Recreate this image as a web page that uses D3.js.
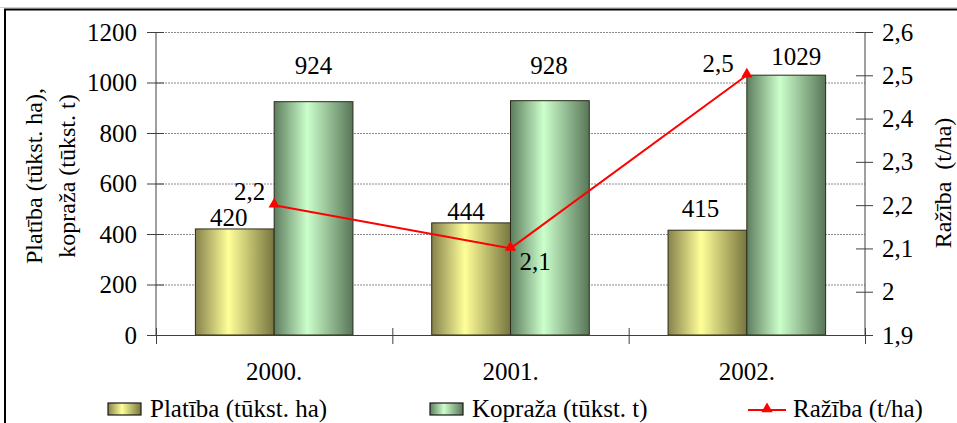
<!DOCTYPE html>
<html><head><meta charset="utf-8">
<script src="https://cdn.jsdelivr.net/npm/d3@7"></script>
<style>
body{margin:0;background:#fff;overflow:hidden}
svg{display:block}
svg text{font-family:"Liberation Serif","Tinos","DejaVu Serif","Noto Serif",serif !important;fill:#000}
</style></head><body>
<svg id="c" width="957" height="423" font-family="Liberation Serif, DejaVu Serif, serif"></svg>
<script>
// ---- data ----
const years = ["2000.", "2001.", "2002."];
const platiba = [420, 444, 415];
const kopraza = [924, 928, 1029];
const raziba = [2.2, 2.1, 2.5];
const leftTicks = [0, 200, 400, 600, 800, 1000, 1200];
const rightTicks = [1.9, 2.0, 2.1, 2.2, 2.3, 2.4, 2.5, 2.6];
const seriesNames = ["Platība (tūkst. ha)", "Kopraža (tūkst. t)", "Ražība (t/ha)"];
const leftTitle = ["Platība (tūkst. ha),", "kopraža (tūkst. t)"];
const rightTitle = "Ražība  (t/ha)";

// ---- layout ----
const FONT = '"Liberation Serif", "DejaVu Serif", serif';
const L = 156, R = 865, T = 32, B = 335;
const svg = d3.select("#c");
const fmt = d => String(d).replace(".", ",");

// frame
svg.append("line").attr("x1", 0).attr("x2", 957).attr("y1", 7.5).attr("y2", 7.5).attr("stroke", "#d0d0d0").attr("stroke-width", 1);
svg.append("path").attr("d", "M5,430V9.5H960").attr("fill", "none").attr("stroke", "#000").attr("stroke-width", 2);

// gradients
const defs = svg.append("defs");
function grad(id, edgeL, mid, edgeR) {
  const g = defs.append("linearGradient").attr("id", id).attr("x1", 0).attr("x2", 1).attr("y1", 0).attr("y2", 0);
  g.append("stop").attr("offset", 0).attr("stop-color", edgeL);
  g.append("stop").attr("offset", 0.42).attr("stop-color", mid);
  g.append("stop").attr("offset", 1).attr("stop-color", edgeR);
}
grad("gP", "#86824c", "#ffff99", "#77753f");
grad("gK", "#5d7d5d", "#ccffcc", "#587658");

const x0 = d3.scaleBand().domain(years).range([L, R]).paddingInner(0).paddingOuter(0);
const x1 = d3.scaleBand().domain([0, 1]).range([0, x0.bandwidth()]).paddingInner(0).paddingOuter(0.5);
const y = d3.scaleLinear().domain([0, 1200]).range([B, T]);
const y2 = d3.scaleLinear().domain([1.9, 2.6]).range([B, T]);

// gridlines
svg.append("g").selectAll("line").data(leftTicks.filter(d => d > 0)).join("line")
  .attr("x1", L).attr("x2", R).attr("y1", d => y(d) + 0.5).attr("y2", d => y(d) + 0.5)
  .attr("stroke", "#8a8a8a").attr("stroke-width", 1).attr("stroke-dasharray", "2,1");

// bars
const barData = years.map((yr, i) => [
  { yr, s: 0, v: platiba[i] },
  { yr, s: 1, v: kopraza[i] }
]).flat();
svg.append("g").selectAll("rect").data(barData).join("rect")
  .attr("x", d => x0(d.yr) + x1(d.s))
  .attr("y", d => y(d.v))
  .attr("width", x1.bandwidth())
  .attr("height", d => y(0) - y(d.v))
  .attr("fill", d => d.s === 0 ? "url(#gP)" : "url(#gK)")
  .attr("stroke", "#2a2a1a").attr("stroke-width", 1);

// axes
const ax = svg.append("g").attr("transform", `translate(${L},0)`)
  .call(d3.axisLeft(y).tickValues(leftTicks).tickSize(9).tickPadding(10).tickFormat(d => d));
ax.selectAll(".tick line").attr("x2", -9).attr("x1", 8);
const ax2 = svg.append("g").attr("transform", `translate(${R},0)`)
  .call(d3.axisRight(y2).tickValues(rightTicks).tickSize(9).tickPadding(8).tickFormat(fmt));
ax2.selectAll(".tick line").attr("x1", -9).attr("x2", 8);
[ax, ax2].forEach(a => {
  a.attr("font-family", FONT).attr("font-size", 25);
  a.selectAll("path.domain").attr("stroke", "#404040");
  a.selectAll(".tick line").attr("stroke", "#404040");
  a.selectAll("text").attr("font-family", FONT).attr("font-size", 25).attr("fill", "#000");
});
ax.selectAll("path.domain").attr("d", `M0,${T}V${B}`);
ax2.selectAll("path.domain").attr("d", `M0,${T}V${B}`);

// x axis
svg.append("line").attr("x1", L).attr("x2", R).attr("y1", B + 0.5).attr("y2", B + 0.5).attr("stroke", "#404040");
const bounds = years.map(d => x0(d)).concat([x0(years[years.length - 1]) + x0.bandwidth()]);
svg.append("g").selectAll("line").data(bounds).join("line")
  .attr("x1", d => d + 0.5).attr("x2", d => d + 0.5).attr("y1", B - 7).attr("y2", B + 9)
  .attr("stroke", "#404040");
svg.append("g").selectAll("text").data(years).join("text")
  .attr("x", d => x0(d) + x0.bandwidth() / 2).attr("y", 380)
  .attr("text-anchor", "middle").attr("font-family", FONT).attr("font-size", 25).text(d => d);

// bar value labels
const pOff = [[-6, -3], [-5, -3], [-7, -13]];
svg.append("g").selectAll("text").data(platiba).join("text")
  .attr("x", (d, i) => x0(years[i]) + x1(0) + x1.bandwidth() / 2 + pOff[i][0])
  .attr("y", (d, i) => y(d) + pOff[i][1])
  .attr("text-anchor", "middle").attr("font-family", FONT).attr("font-size", 25).text(d => d);
const kOff = [0, -1, 10];
svg.append("g").selectAll("text").data(kopraza).join("text")
  .attr("x", (d, i) => x0(years[i]) + x1(1) + x1.bandwidth() / 2 + kOff[i])
  .attr("y", d => Math.min(y(d) - 10, y(1035)))
  .attr("text-anchor", "middle").attr("font-family", FONT).attr("font-size", 25).text(d => d);

// line
const cx = (i) => x0(years[i]) + x0.bandwidth() / 2;
svg.append("path").datum(raziba)
  .attr("d", d3.line().x((d, i) => cx(i)).y(d => y2(d)))
  .attr("fill", "none").attr("stroke", "#ff0000").attr("stroke-width", 2);
svg.append("g").selectAll("path").data(raziba).join("path")
  .attr("d", d3.symbol().type(d3.symbolTriangle).size(55))
  .attr("transform", (d, i) => `translate(${cx(i)},${y2(d) - 1})`)
  .attr("fill", "#ff0000");
const rOff = [[-9, -5, "end"], [9, 22, "start"], [-13, -3, "end"]];
svg.append("g").selectAll("text").data(raziba).join("text")
  .attr("x", (d, i) => cx(i) + rOff[i][0])
  .attr("y", (d, i) => y2(d) + rOff[i][1])
  .attr("text-anchor", (d, i) => rOff[i][2])
  .attr("font-family", FONT).attr("font-size", 25).text(d => fmt(d));

// axis titles
const lt = svg.append("text").attr("transform", "translate(0,176) rotate(-90)")
  .attr("text-anchor", "middle").attr("font-family", FONT).attr("font-size", 24);
lt.append("tspan").attr("x", 0).attr("y", 42).text(leftTitle[0]);
lt.append("tspan").attr("x", 0).attr("y", 75).text(leftTitle[1]);
svg.append("text").attr("transform", "translate(951,183) rotate(-90)")
  .attr("text-anchor", "middle").attr("font-family", FONT).attr("font-size", 24)
  .style("white-space", "pre").attr("xml:space", "preserve").text(rightTitle);

// legend
const lg = svg.append("g");
const legX = [108, 430];
[0, 1].forEach(i => {
  lg.append("rect").attr("x", legX[i]).attr("y", 403).attr("width", 33).attr("height", 12)
    .attr("fill", i === 0 ? "url(#gP)" : "url(#gK)").attr("stroke", "#1a1a1a").attr("stroke-width", 1.2);
  lg.append("text").attr("x", legX[i] + 42).attr("y", 417).attr("font-family", FONT).attr("font-size", 25).text(seriesNames[i]);
});
lg.append("line").attr("x1", 748).attr("x2", 786).attr("y1", 410).attr("y2", 410).attr("stroke", "#ff0000").attr("stroke-width", 2);
lg.append("path").attr("d", d3.symbol().type(d3.symbolTriangle).size(55)).attr("transform", "translate(767,409)").attr("fill", "#ff0000");
lg.append("text").attr("x", 793).attr("y", 417).attr("font-family", FONT).attr("font-size", 25).text(seriesNames[2]);
</script>
</body></html>
